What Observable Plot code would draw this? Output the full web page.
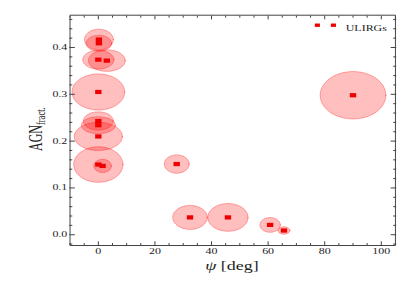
<!DOCTYPE html>
<html><head><meta charset="utf-8">
<script src="https://cdn.jsdelivr.net/npm/d3@7"></script>
<script src="https://cdn.jsdelivr.net/npm/@observablehq/plot@0.6"></script>
<style>
body{margin:0;background:#fff;}
#chart svg *{vector-effect:non-scaling-stroke;}
</style></head><body><div id="chart"></div>
<script>
// ULIRG data: psi [deg], AGN fraction, and their uncertainties (ellipse half-axes)
const psi      = [0.2, 0.2, 0.0, 3.0, 0.0, 0.0, 0.0, 0.0, 0.0, 1.5, 27.7, 32.4, 45.8, 60.7, 65.6, 90.0];
const agnFract = [0.417, 0.409, 0.374, 0.372, 0.305, 0.243, 0.234, 0.210, 0.150, 0.147, 0.151, 0.037, 0.037, 0.021, 0.009, 0.298];
const psiErr   = [5.1, 4.5, 5.5, 6.5, 9.3, 5.3, 6.0, 8.5, 8.7, 3.1, 4.4, 6.1, 7.1, 3.6, 2.1, 11.6];
const agnErr   = [0.022, 0.017, 0.020, 0.023, 0.0385, 0.0195, 0.018, 0.030, 0.038, 0.014, 0.0196, 0.0256, 0.0296, 0.0157, 0.0079, 0.0506];

const xTicks = [0, 20, 40, 60, 80, 100];
const xMinor = [-10, -5, 5, 10, 15, 25, 30, 35, 45, 50, 55, 65, 70, 75, 85, 90, 95, 105];
const yTicks = [0.0, 0.1, 0.2, 0.3, 0.4];
const yMinor = [-0.02, 0.02, 0.04, 0.06, 0.08, 0.12, 0.14, 0.16, 0.18, 0.22, 0.24, 0.26, 0.28, 0.32, 0.34, 0.36, 0.38, 0.42, 0.44, 0.46];
const legendLabel = "ULIRGs";

const points = psi.map((p, i) => ({id: i, psi: p, agn: agnFract[i], ePsi: psiErr[i], eAgn: agnErr[i]}));
// ellipse outlines in data space
const ellipsePts = points.flatMap(d => d3.range(0, 73).map(k => {
  const t = k / 72 * 2 * Math.PI;
  return {id: d.id, x: d.psi + d.ePsi * Math.cos(t), y: d.agn + d.eAgn * Math.sin(t)};
}));

const W = 277, H = 291, OUTW = 415;
const font = "Liberation Serif";
const axisColor = "#444";

const chart = Plot.plot({
  width: W, height: H,
  marginLeft: 46.25, marginRight: 13.55, marginTop: 14.7, marginBottom: 46,
  style: {fontFamily: font, background: "#fff", color: "#222"},
  x: {domain: [-10, 105]},
  y: {domain: [-0.023, 0.469]},
  marks: [
    Plot.line(ellipsePts, {x: "x", y: "y", z: "id", curve: "linear-closed", fill: "#ff0000", fillOpacity: 0.25, stroke: "#ff0000", strokeOpacity: 0.4, strokeWidth: 0.8}),
    Plot.dot(points, {x: "psi", y: "agn", symbol: "square", r: 2.4, fill: "#ee0000"}),
    Plot.frame({stroke: axisColor, strokeWidth: 1}),
    Plot.axisX(xTicks, {anchor: "bottom", tickSize: -3.7, tickPadding: 7, fontSize: 8, label: null, stroke: axisColor, tickFormat: d => String(d)}),
    Plot.axisX(xMinor, {anchor: "bottom", tickSize: -2, fill: "none", label: null, stroke: axisColor}),
    Plot.axisX(xTicks, {anchor: "top", tickSize: -3.7, fill: "none", label: null, stroke: axisColor}),
    Plot.axisX(xMinor, {anchor: "top", tickSize: -2, fill: "none", label: null, stroke: axisColor}),
    Plot.axisY(yTicks, {anchor: "left", tickSize: -3.7, tickPadding: 5.5, fontSize: 8, label: null, stroke: axisColor, tickFormat: d3.format(".1f")}),
    Plot.axisY(yMinor, {anchor: "left", tickSize: -2, fill: "none", label: null, stroke: axisColor}),
    Plot.axisY(yTicks, {anchor: "right", tickSize: -3.7, fill: "none", label: null, stroke: axisColor}),
    Plot.axisY(yMinor, {anchor: "right", tickSize: -2, fill: "none", label: null, stroke: axisColor}),
    // legend
    Plot.dot([legendLabel], {frameAnchor: "top-right", dx: -52.1, dy: 10, symbol: "square", r: 1.9, fill: "#ee0000"}),
    Plot.dot([legendLabel], {frameAnchor: "top-right", dx: -41.4, dy: 10, symbol: "square", r: 1.9, fill: "#ee0000"}),
    Plot.text([legendLabel], {frameAnchor: "top-right", dx: -33.2, dy: 10.3, text: d => d, textAnchor: "start", fontSize: 8, fill: "#222"})
  ]
});

const svg = d3.select(chart);
// axis titles with rich text
const yl = svg.append("text")
  .attr("transform", "translate(27.8,151) rotate(-90)")
  .attr("text-anchor", "start")
  .attr("fill", "#222")
  .style("font-family", font);
yl.append("tspan").attr("font-size", 12).text("AGN");
yl.append("tspan").attr("font-size", 8.5).attr("dy", 2).text("fract.");

const xl = svg.append("text")
  .attr("x", 154.85).attr("y", 270)
  .attr("text-anchor", "middle")
  .attr("fill", "#222")
  .attr("font-size", 12)
  .style("font-family", font);
xl.append("tspan").attr("font-style", "italic").text("ψ");
xl.append("tspan").text(" [deg]");

// stretch horizontally to the target window
chart.setAttribute("width", OUTW);
chart.setAttribute("height", H);
chart.setAttribute("preserveAspectRatio", "none");
chart.style.width = OUTW + "px";
chart.style.height = H + "px";
chart.style.maxWidth = "none";
document.getElementById("chart").appendChild(chart);
</script>
</body></html>
